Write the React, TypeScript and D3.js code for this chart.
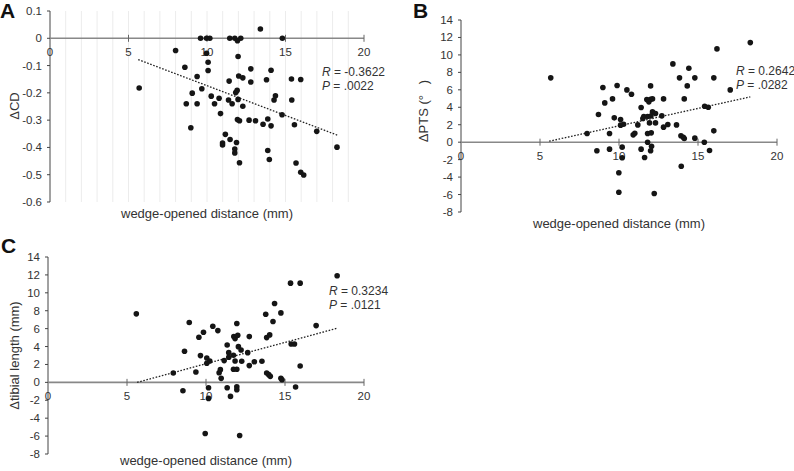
import React from "react";
import * as d3 from "d3";

// ---------- DATA ----------
const cdPoints: [number, number][] = [
  [9.59, 0], [9.97, 0], [10.18, 0], [11.45, 0], [11.77, 0], [11.94, -0.009], [12.15, 0], [13.4, 0.034], [14.8, 0],
  [8.0, -0.045], [9.97, -0.055], [11.98, -0.067], [10.07, -0.088], [8.59, -0.106], [10.07, -0.118], [12.79, -0.112],
  [14.08, -0.117], [9.37, -0.14], [11.41, -0.157], [12.02, -0.138], [12.28, -0.145], [12.79, -0.16], [13.79, -0.152],
  [15.38, -0.149], [15.97, -0.151], [5.68, -0.182], [9.67, -0.185], [9.06, -0.201], [11.83, -0.199], [11.92, -0.191],
  [10.27, -0.212], [10.77, -0.22], [11.37, -0.226], [11.98, -0.224], [14.27, -0.226], [14.36, -0.211], [15.4, -0.226],
  [8.68, -0.24], [9.37, -0.24], [10.48, -0.24], [11.6, -0.24], [12.28, -0.249], [10.86, -0.276], [14.78, -0.28],
  [11.94, -0.298], [12.07, -0.302], [12.68, -0.3], [13.09, -0.302], [13.87, -0.296], [13.57, -0.315], [14.08, -0.321],
  [15.57, -0.317], [8.97, -0.328], [16.99, -0.341], [11.17, -0.352], [11.47, -0.371], [10.99, -0.384], [10.99, -0.391],
  [11.88, -0.382], [18.28, -0.399], [11.77, -0.406], [11.77, -0.42], [13.87, -0.411], [13.97, -0.444], [12.07, -0.456],
  [15.67, -0.457], [15.97, -0.491], [16.16, -0.501],
];
const cdTrend: [number, number][] = [[5.62, -0.078], [18.35, -0.356]];

const ptsPoints: [number, number][] = [
  [5.68, 7.37], [7.98, 0.99], [8.6, -0.99], [8.7, 3.17], [8.98, 6.26], [9.1, 4.5], [9.4, 0.99], [9.4, -0.8],
  [9.59, 4.96], [9.7, 2.79], [9.88, 6.49], [10.1, 2.6], [9.99, -3.51], [9.99, -5.73], [10.2, -0.57], [10.2, -1.79],
  [10.1, 1.95], [10.29, 2.06], [10.5, 5.99], [10.79, 5.5], [10.9, 0.84], [11.0, 1.03], [11.19, 1.98], [11.4, 3.97],
  [11.4, -0.8], [11.51, 2.71], [11.57, 2.94], [11.62, -1.76], [11.76, 4.89], [11.81, 2.94], [11.81, 0.99], [11.81, 0],
  [11.89, 4.62], [11.93, 2.21], [12.0, 6.45], [12.0, 4.92], [12.04, 1.07], [12.06, -0.46], [12.0, -0.99], [12.12, 4.96],
  [12.12, 3.47], [12.02, 3.0], [12.23, -5.88], [12.31, 2.21], [12.31, 3.28], [12.71, 3.02], [12.82, 4.96], [12.82, 1.72],
  [13.09, 2.02], [13.41, 8.97], [13.64, 1.98], [13.83, 7.37], [13.92, 0.73], [13.94, -2.75], [14.07, 0.57], [14.13, 0.42],
  [14.13, 4.96], [14.32, 6.45], [14.42, 8.47], [14.8, 7.37], [14.8, 0.46], [15.42, 4.12], [15.65, 4.01], [15.4, 0],
  [15.73, -0.95], [16.0, 7.37], [16.0, 1.3], [16.2, 10.69], [17.04, 5.99], [18.31, 11.41],
];
const ptsTrend: [number, number][] = [[5.58, 0.11], [18.31, 5.19]];

const tibPoints: [number, number][] = [
  [5.59, 7.65], [7.93, 1.04], [8.54, -0.93], [8.64, 3.47], [8.94, 6.68], [9.36, 1.16], [9.55, 5.04], [9.65, 2.99],
  [9.84, 5.6], [9.95, -5.71], [10.05, 2.72], [10.05, 2.13], [10.16, -0.6], [10.16, -1.79], [10.24, 2.39], [10.43, 6.27],
  [10.75, 5.78], [10.83, 1.08], [10.91, 1.42], [10.96, 0.45], [11.15, 2.43], [11.34, 4.18], [11.34, -0.6], [11.44, 3.32],
  [11.44, 2.8], [11.55, -1.57], [11.74, 3.02], [11.74, 1.46], [11.76, 5.11], [11.84, 4.89], [11.84, 2.39], [11.95, 6.57],
  [11.95, 1.46], [11.95, -0.49], [11.95, -0.82], [12.01, 5.26], [12.05, 3.99], [12.13, -5.93], [12.22, 3.62], [12.26, 2.35],
  [12.64, 3.32], [12.74, 5.11], [12.74, 1.87], [13.06, 2.31], [13.54, 2.35], [13.78, 7.61], [13.84, 5.0], [13.84, 1.04],
  [13.97, 0.86], [14.03, 5.3], [14.07, 0.67], [14.24, 6.79], [14.34, 8.81], [14.74, 7.76], [14.74, 0.45], [14.81, 0.3],
  [15.35, 11.08], [15.39, 4.29], [15.6, 4.29], [15.67, -0.52], [15.96, 11.08], [15.96, 1.83], [16.97, 6.34], [18.3, 11.9],
];
const tibTrend: [number, number][] = [[5.64, 0.0], [18.3, 6.04]];

const xTicks = [0, 5, 10, 15, 20];
const cdTicks = [0.1, 0, -0.1, -0.2, -0.3, -0.4, -0.5, -0.6];
const degTicks = [14, 12, 10, 8, 6, 4, 2, 0, -2, -4, -6, -8];
const gridTicks = d3.range(1, 20);

const xTitle = "wedge-opened distance (mm)";

// ---------- COMPONENT ----------
const FONT = "'Liberation Sans', Arial, Helvetica, sans-serif";
const TXT = "#333";

type PanelProps = {
  letter: string;
  letterX: number;
  letterY: number;
  left: number;
  right: number;
  top: number;
  bottom: number;
  yDomain: [number, number];
  yTicks: number[];
  yFmt: (v: number) => string;
  points: [number, number][];
  trend: [number, number][];
  yTitle: string;
  yTitleX: number;
  yTitleY?: number;
  xTitleY: number;
  rText: string;
  pText: string;
  annX: number;
  annY: number;
  grid?: boolean;
};

function Panel(p: PanelProps) {
  const x = d3.scaleLinear().domain([0, 20]).range([p.left, p.right]);
  const y = d3.scaleLinear().domain(p.yDomain).range([p.bottom, p.top]);
  const y0 = y(0);
  const line = d3.line<[number, number]>().x((d) => x(d[0])).y((d) => y(d[1]));
  const yTitleY = p.yTitleY ?? (p.top + p.bottom) / 2;
  return (
    <g fontFamily={FONT}>
      {p.grid &&
        gridTicks.map((g) => (
          <line key={"g" + g} x1={x(g)} x2={x(g)} y1={p.top} y2={p.bottom} stroke="#ececec" strokeWidth={1} />
        ))}
      {/* y axis */}
      <line x1={p.left} x2={p.left} y1={p.top} y2={p.bottom} stroke="#444" strokeWidth={1} />
      {p.yTicks.map((t) => (
        <g key={"y" + t}>
          <line x1={p.left - 3} x2={p.left} y1={y(t)} y2={y(t)} stroke="#444" strokeWidth={1} />
          <text x={p.left - 8} y={y(t)} dy="0.35em" textAnchor="end" fontSize={11.5} fill={TXT}>
            {p.yFmt(t)}
          </text>
        </g>
      ))}
      {/* x axis at zero */}
      <line x1={p.left} x2={p.right} y1={y0} y2={y0} stroke="#888" strokeWidth={1.6} />
      {xTicks.map((t) => (
        <g key={"x" + t}>
          {t > 0 && <line x1={x(t)} x2={x(t)} y1={y0 - 3.5} y2={y0 + 3.5} stroke="#666" strokeWidth={1} />}
          <text x={x(t)} y={y0 + 14} dy="0.35em" textAnchor="middle" fontSize={11.5} fill={TXT}>
            {t}
          </text>
        </g>
      ))}
      {/* trend */}
      <path d={line(p.trend) || ""} fill="none" stroke="#222" strokeWidth={1.3} strokeDasharray="1.6,1.6" />
      {/* points */}
      {p.points.map((d, i) => (
        <circle key={i} cx={x(d[0])} cy={y(d[1])} r={2.8} fill="#151515" />
      ))}
      {/* titles */}
      <text x={(p.left + p.right) / 2} y={p.xTitleY} textAnchor="middle" fontSize={13} fill={TXT}>
        {xTitle}
      </text>
      <text
        transform={`translate(${p.yTitleX},${yTitleY}) rotate(-90)`}
        textAnchor="middle"
        dy="0.35em"
        fontSize={13}
        fill={TXT}
        style={{ whiteSpace: "pre" }}
      >
        {p.yTitle}
      </text>
      <text x={p.annX} y={p.annY} fontSize={12} fill={TXT}>
        <tspan fontStyle="italic">R</tspan>
        {" = " + p.rText}
      </text>
      <text x={p.annX} y={p.annY + 14} fontSize={12} fill={TXT}>
        <tspan fontStyle="italic">P</tspan>
        {" = " + p.pText}
      </text>
      <text x={p.letterX} y={p.letterY} fontSize={21} fontWeight="bold" fill="#111">
        {p.letter}
      </text>
    </g>
  );
}

export default function App() {
  const fmtCD = (v: number) => (v === 0 ? "0" : d3.format(".1f")(v).replace("−", "-"));
  const fmtInt = (v: number) => String(v);
  return (
    <svg
      width={794}
      height={471}
      style={{ position: "absolute", left: 0, top: 0, background: "#fff" }}
    >
      <rect width={794} height={471} fill="#fff" />
      <Panel
        letter="A"
        letterX={0}
        letterY={18}
        left={50}
        right={364}
        top={11}
        bottom={202}
        yDomain={[-0.6, 0.1]}
        yTicks={cdTicks}
        yFmt={fmtCD}
        points={cdPoints}
        trend={cdTrend}
        yTitle="ΔCD"
        yTitleX={14}
        yTitleY={106}
        xTitleY={217.5}
        rText="-0.3622"
        pText=".0022"
        annX={322}
        annY={75.5}
        grid
      />
      <Panel
        letter="B"
        letterX={413}
        letterY={18}
        left={461}
        right={777}
        top={20}
        bottom={212}
        yDomain={[-8, 14]}
        yTicks={degTicks}
        yFmt={fmtInt}
        points={ptsPoints}
        trend={ptsTrend}
        yTitle="ΔPTS (°   )"
        yTitleX={423}
        yTitleY={111}
        xTitleY={227.5}
        rText="0.2642"
        pText=".0282"
        annX={736}
        annY={75}
      />
      <Panel
        letter="C"
        letterX={1}
        letterY={253}
        left={48}
        right={364}
        top={257}
        bottom={454}
        yDomain={[-8, 14]}
        yTicks={degTicks}
        yFmt={fmtInt}
        points={tibPoints}
        trend={tibTrend}
        yTitle="Δtibial length (mm)"
        yTitleX={14}
        xTitleY={464.5}
        rText="0.3234"
        pText=".0121"
        annX={329}
        annY={294.5}
      />
    </svg>
  );
}
